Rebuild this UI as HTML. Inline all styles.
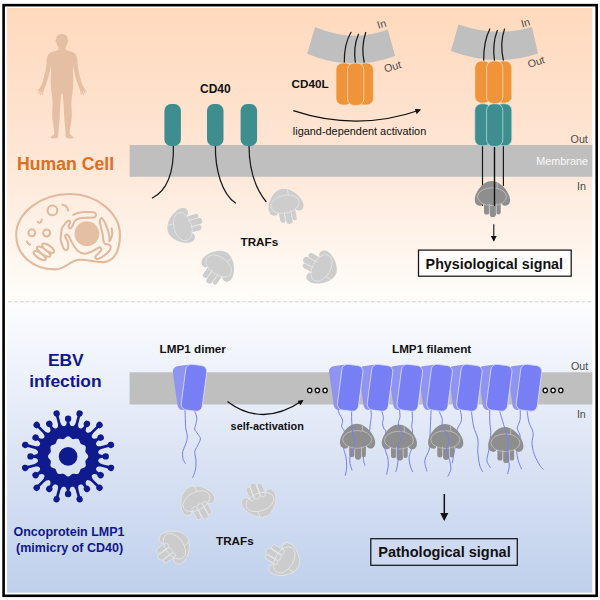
<!DOCTYPE html>
<html><head><meta charset="utf-8"><title>LMP1 mimicry of CD40</title>
<style>
html,body{margin:0;padding:0;background:#fff;}
svg{display:block;}
text{font-family:"Liberation Sans",sans-serif;}
.b{font-weight:bold;}
</style></head><body>
<svg width="600" height="600" viewBox="0 0 600 600">
<defs>
<linearGradient id="gTop" x1="0" y1="0" x2="0" y2="1">
<stop offset="0" stop-color="#FFD9BD"/><stop offset="0.5" stop-color="#FEE6D5"/><stop offset="1" stop-color="#FFFDFA"/>
</linearGradient>
<linearGradient id="gBot" x1="0" y1="0" x2="0" y2="1">
<stop offset="0" stop-color="#FDFDFF"/><stop offset="0.5" stop-color="#DDE5F5"/><stop offset="1" stop-color="#BFD0EC"/>
</linearGradient>
<!-- TRAF shape -->
<g id="trafShape">
<path d="M-0.5,-15.5 C8.5,-15.5 17.6,-4.5 18,3 C18.2,8 15,9.7 12.5,9.2 C10.5,8.8 9.5,7.5 9,6.5 L-9,7.5 C-9.5,8.5 -11,9.7 -13,9.2 C-16,8.5 -17.4,6 -17.2,2.5 C-16.8,-4.5 -9,-15.5 -0.5,-15.5 Z"/>
<rect x="-8" y="4" width="5.2" height="14" rx="2.6"/>
<rect x="4.3" y="4" width="4.4" height="14" rx="2.2"/>
<rect x="-2.3" y="4" width="6.3" height="16.5" rx="3.1"/>
</g>
<g id="trafLines" fill="none" stroke-width="0.75">
<ellipse cx="0" cy="0.2" rx="14.5" ry="8.9"/>
<path d="M5.3,-14.6 L5.3,-8"/>
<path d="M-2.6,9.3 L-2.6,16.5 M4.2,9.3 L4.2,16.5"/>
</g>
<g id="trafL"><use href="#trafShape" fill="#CDCDCD"/><use href="#trafLines" stroke="#E6E6E6"/></g>
<g id="trafL2"><use href="#trafShape" fill="#CCCCCC" stroke="#E0E3E8" stroke-width="0.9"/><use href="#trafLines" stroke="#E8E8E8"/></g>
<g id="trafD"><use href="#trafShape" fill="#8E8E8E"/><use href="#trafLines" stroke="#C6C6C6"/></g>
<!-- LMP1 dimer, in absolute coordinates of the single dimer -->
<g id="dimerB"><rect x="-10.5" y="-22" width="21" height="44" rx="5" fill="#8E94F0" transform="translate(185.6,387.3) rotate(-8)"/></g>
<g id="dimerF"><rect x="-10.6" y="-23" width="21.2" height="46" rx="5.8" fill="#787FF5" stroke="#E4E6FB" stroke-width="0.7" transform="translate(194,387.8) rotate(7.5)"/></g>
<g id="dimer"><use href="#dimerB"/><use href="#dimerF"/></g>
<marker id="ah" viewBox="0 0 10 10" refX="8" refY="5" markerUnits="userSpaceOnUse" markerWidth="5.7" markerHeight="5.7" orient="auto"><path d="M0,0 L10,5 L0,10 Z" fill="#111"/></marker>
<marker id="ah2" viewBox="0 0 10 10" refX="8" refY="5" markerUnits="userSpaceOnUse" markerWidth="8.4" markerHeight="8.4" orient="auto"><path d="M0,0 L10,5 L0,10 Z" fill="#111"/></marker>
</defs>

<!-- backgrounds -->
<rect x="0" y="0" width="600" height="600" fill="#fff"/>
<rect x="7" y="8" width="585.3" height="293" fill="url(#gTop)"/>
<rect x="7" y="301" width="585.3" height="291.7" fill="url(#gBot)"/>
<rect x="3.6" y="5.15" width="593.1" height="590.65" fill="none" stroke="#000" stroke-width="2.6"/>
<line x1="8.5" y1="301.8" x2="591.2" y2="301.8" stroke="#CFCFCF" stroke-width="1.1" stroke-dasharray="3.25 2.6"/>

<!-- TOP PANEL -->
<g id="human" fill="#E5BFA3">
<path d="M62.1,34 C65.6,34 67.7,36.2 67.8,39.2 C68.7,39.3 68.7,41.8 67.6,42.2 C67.2,44.8 66.2,46.2 65.6,47.2 L58.4,47.2 C57.8,46.2 56.8,44.8 56.4,42.2 C55.3,41.8 55.3,39.3 56.2,39.2 C56.3,36.2 58.4,34 62.1,34 Z"/>
<path d="M58.4,44 L58.4,49.8 C56,51.2 52,51.6 49.8,53 C47.4,54.6 46.8,58 46.6,62 C46.3,68 44.6,75 43.2,80 C42.3,83.5 41,86.5 39.6,88.4 L37,91.2 L37.6,91.8 L40,89.8 L38.2,93.6 L39,94 L41,90.6 L40,95 L40.9,95.2 L42.3,91 L42.2,95 L43.1,95 L43.8,90.4 C44.6,88 45.6,85.6 46.6,83 C48.6,77.4 50.2,71 51,64.6 C51.2,72 50.6,78 50.8,84 C51,91 52.4,97 52.6,103 C52.8,108 52,111 52.2,116 C52.4,122 54.2,128 54.4,133 C54.4,134.6 52.4,135.8 51,136.8 C50,137.6 50.6,138.4 52,138.4 L56.6,138.2 C58,138 58.4,136.6 58.4,135 C58.6,128 59.6,122 59.8,116 C60,110 60.6,100 61.4,93.4 L62.6,93.4 C63.4,100 64,110 64.2,116 C64.4,122 65.4,128 65.6,135 C65.6,136.6 66,138 67.4,138.2 L72,138.4 C73.4,138.4 74,137.6 73,136.8 C71.6,135.8 69.6,134.6 69.6,133 C69.8,128 71.6,122 71.8,116 C72,111 71.2,108 71.4,103 C71.6,97 73,91 73.2,84 C73.4,78 72.8,72 73,64.6 C73.8,71 75.4,77.4 77.4,83 C78.4,85.6 79.4,88 80.2,90.4 L80.9,95 L81.8,95 L81.7,91 L83.1,95.2 L84,95 L83,90.6 L85,94 L85.8,93.6 L84,89.8 L86.4,91.8 L87,91.2 L84.4,88.4 C83,86.5 81.7,83.5 80.8,80 C79.4,75 77.7,68 77.5,61 C77.2,58 76.6,54.6 74.2,53 C72,51.6 68,51.2 65.6,49.8 L65.6,44 Z"/>
</g>
<text class="b" x="17" y="170.4" font-size="17.65" fill="#DF6E20">Human Cell</text>

<g id="cell" transform="translate(10.7,185.75) scale(0.1968)" fill="none" stroke="#E2B99B" stroke-width="10.4" stroke-linecap="round" stroke-linejoin="round">
<path d="M300,42 C440,42 555,140 555,250 C555,340 520,385 470,388 C420,390 390,372 345,376 C300,380 280,425 225,425 C110,425 28,350 28,250 C28,140 150,42 300,42 Z"/>
<circle cx="387" cy="244" r="63" fill="#E5BFA3" stroke="none"/>
<circle cx="212" cy="125" r="25"/>
<circle cx="107.5" cy="239" r="17.5"/>
<circle cx="182.5" cy="240" r="17.5"/>
<path d="M262,97 C280,100 290,110 292,126"/>
<path d="M137,184 C148,192 156,186 158,172"/>
<path d="M82,283 C86,292 92,297 98,300"/>
<path d="M318.0,148.0 C322.5,146.2 335.8,139.5 345.0,137.0 C354.2,134.5 360.5,133.3 373.0,133.0 C385.5,132.7 410.3,133.7 420.0,135.0 C429.7,136.3 428.8,138.5 431.0,141.0 C433.2,143.5 433.7,146.8 433.0,150.0 C432.3,153.2 430.8,157.8 427.0,160.0 C423.2,162.2 416.2,162.7 410.0,163.0 C403.8,163.3 400.0,161.7 390.0,162.0 C380.0,162.3 360.5,162.3 350.0,165.0 C339.5,167.7 332.5,172.5 327.0,178.0 C321.5,183.5 320.0,192.2 317.0,198.0 C314.0,203.8 311.7,209.8 309.0,213.0 C306.3,216.2 303.2,217.2 301.0,217.0 C298.8,216.8 297.0,214.3 296.0,212.0 C295.0,209.7 294.0,207.2 295.0,203.0 C296.0,198.8 301.2,190.8 302.0,187.0 C302.8,183.2 301.3,181.5 300.0,180.0 C298.7,178.5 297.8,176.0 294.0,178.0 C290.2,180.0 282.7,185.3 277.0,192.0 C271.3,198.7 263.7,207.5 260.0,218.0 C256.3,228.5 256.0,245.5 255.0,255.0 C254.0,264.5 252.3,265.8 254.0,275.0 C255.7,284.2 262.0,302.0 265.0,310.0 C268.0,318.0 269.5,320.2 272.0,323.0 C274.5,325.8 277.3,326.8 280.0,327.0 C282.7,327.2 286.0,326.0 288.0,324.0 C290.0,322.0 291.7,321.5 292.0,315.0 C292.3,308.5 292.3,293.8 290.0,285.0 C287.7,276.2 280.0,267.5 278.0,262.0 C276.0,256.5 277.2,254.3 278.0,252.0 C278.8,249.7 281.0,248.3 283.0,248.0 C285.0,247.7 287.8,248.3 290.0,250.0 C292.2,251.7 291.8,250.5 296.0,258.0 C300.2,265.5 307.7,283.0 315.0,295.0 C322.3,307.0 330.0,321.7 340.0,330.0 C350.0,338.3 363.3,344.2 375.0,345.0 C386.7,345.8 399.2,339.5 410.0,335.0 C420.8,330.5 433.3,321.7 440.0,318.0 C446.7,314.3 447.2,313.3 450.0,313.0 C452.8,312.7 455.3,313.7 457.0,316.0 C458.7,318.3 462.0,322.2 460.0,327.0 C458.0,331.8 449.7,340.0 445.0,345.0 C440.3,350.0 434.5,353.7 432.0,357.0 C429.5,360.3 429.5,362.7 430.0,365.0 C430.5,367.3 431.7,370.2 435.0,371.0 C438.3,371.8 443.3,372.7 450.0,370.0 C456.7,367.3 466.7,361.3 475.0,355.0 C483.3,348.7 494.5,339.2 500.0,332.0 C505.5,324.8 507.5,317.2 508.0,312.0 C508.5,306.8 506.0,303.3 503.0,301.0 C500.0,298.7 494.3,299.3 490.0,298.0 C485.7,296.7 480.2,296.3 477.0,293.0 C473.8,289.7 472.5,285.2 471.0,278.0 C469.5,270.8 470.0,260.5 468.0,250.0 C466.0,239.5 461.5,226.3 459.0,215.0 C456.5,203.7 453.5,189.7 453.0,182.0 C452.5,174.3 454.0,171.7 456.0,169.0 C458.0,166.3 461.0,162.5 465.0,166.0 C469.0,169.5 475.0,179.3 480.0,190.0 C485.0,200.7 491.3,218.0 495.0,230.0 C498.7,242.0 501.0,253.5 502.0,262.0 C503.0,270.5 500.2,279.0 501.0,281.0 C501.8,283.0 504.5,280.0 507.0,274.0 C509.5,268.0 515.0,254.5 516.0,245.0 C517.0,235.5 513.5,221.7 513.0,217.0"/>
<g transform="translate(147.5,355) rotate(35)"><ellipse cx="0" cy="0" rx="36" ry="14"/></g>
<g transform="translate(167.5,335) rotate(35)"><ellipse cx="0" cy="0" rx="40" ry="15" fill="#FFF3EA"/></g>
<g transform="translate(190,317.5) rotate(35)"><ellipse cx="0" cy="0" rx="36" ry="15" fill="#FFF3EA"/></g>
</g>

<!-- membrane top -->
<rect x="129.6" y="145" width="462.7" height="31.8" fill="#BFBFBF"/>
<text x="570.6" y="142.7" font-size="10.7" fill="#4A4A4A">Out</text>
<text x="536.2" y="165.4" font-size="10.85" fill="#FAFAFA">Membrane</text>
<text x="577" y="190" font-size="10.7" fill="#4A4A4A">In</text>

<!-- CD40 -->
<text class="b" x="200" y="93" font-size="12" fill="#111">CD40</text>
<g fill="none" stroke="#1A1A1A" stroke-width="1.25" stroke-linecap="round">
<path d="M173.4,145 C174,170 168,190 152.4,198"/>
<path d="M215.4,145 C215,170 222,194 235.5,203"/>
<path d="M249,145 C249,168 255,188 266,201.5"/>
</g>
<g fill="#3E8E90">
<rect x="164.4" y="104" width="16.5" height="42" rx="6.5"/>
<rect x="207" y="104" width="16.5" height="42" rx="6.5"/>
<rect x="240.6" y="104" width="16.5" height="42" rx="6.5"/>
</g>

<!-- light TRAFs top -->
<use href="#trafL" transform="translate(182.6,226.7) rotate(-106)"/>
<use href="#trafL" transform="translate(285,204) rotate(-12)"/>
<use href="#trafL" transform="translate(218.75,265.8) rotate(35)"/>
<use href="#trafL" transform="translate(321.7,268) rotate(120)"/>
<text class="b" x="240.5" y="245.7" font-size="11.7" fill="#111">TRAFs</text>

<!-- CD40L cell 1 -->
<g id="cmem">
<path d="M315,27 Q352.7,43 387.8,29.6 L395.2,56 Q351,72.4 307.2,53.8 Z" fill="#BFBFBF"/>
<g fill="none" stroke="#1A1A1A" stroke-width="1.25" stroke-linecap="round">
<path d="M351,32.3 Q343.95,44.2 344.3,63"/>
<path d="M358.5,34.2 Q353.05,46.65 355.4,63"/>
<path d="M365.7,32.5 Q360.8,47.5 364.3,63"/>
</g>
</g>
<g id="cd40l" fill="#F0943A" stroke="#FBE3C8" stroke-width="0.7">
<rect x="336" y="63" width="16" height="42" rx="6.5"/>
<rect x="357.4" y="63" width="16" height="42" rx="6.5"/>
<rect x="347.6" y="63" width="16.2" height="42.4" rx="6.5"/>
</g>
<text x="0" y="0" font-size="10.7" fill="#4A4A4A" transform="translate(378.3,28.8) rotate(-16)">In</text>
<text x="0" y="0" font-size="10.7" fill="#4A4A4A" transform="translate(385.3,72.5) rotate(-16)">Out</text>
<text class="b" x="291.6" y="88" font-size="11.7" fill="#111">CD40L</text>
<path d="M293.3,110.7 Q357.3,132 420,110" fill="none" stroke="#111" stroke-width="1.25" marker-end="url(#ah)"/>
<text x="292.8" y="134.6" font-size="10.92" fill="#111">ligand-dependent activation</text>

<!-- complex 2 -->
<path d="M458.4,24.4 Q496.8,37.5 532,27 L538,53.6 Q495.5,67.7 451,51 Z" fill="#BFBFBF"/>
<g fill="none" stroke="#1A1A1A" stroke-width="1.25" stroke-linecap="round">
<path d="M489.8,29 Q483.45,41.9 483.7,60.5"/>
<path d="M497.3,30.5 Q492.1,43.9 494.5,61"/>
<path d="M504.5,29.1 Q499.55,43.4 503.4,60.5"/>
</g>
<g fill="#F0943A" stroke="#FBE3C8" stroke-width="0.7">
<rect x="474.8" y="61" width="16" height="42" rx="6.5"/>
<rect x="495.8" y="61" width="16" height="42" rx="6.5"/>
<rect x="486.6" y="61" width="16.2" height="42.5" rx="6.5"/>
</g>
<g fill="none" stroke="#1A1A1A" stroke-width="1.2">
<path d="M482.5,146 L482.5,206"/>
<path d="M503.4,146 L503.4,186"/>
</g>
<g fill="#3E8E90" stroke="#C9E1E1" stroke-width="0.7">
<rect x="474.8" y="103.8" width="16" height="42" rx="6.5"/>
<rect x="495.8" y="103.8" width="16" height="42" rx="6.5"/>
<rect x="486.6" y="103.8" width="16.2" height="42.6" rx="6.5"/>
</g>
<text x="0" y="0" font-size="10.7" fill="#4A4A4A" transform="translate(522.2,27.5) rotate(-16)">In</text>
<text x="0" y="0" font-size="10.7" fill="#4A4A4A" transform="translate(529,68) rotate(-17.4)">Out</text>
<use href="#trafD" transform="translate(492,196.5)"/>
<path d="M494.5,147 L494.5,206" stroke="#111" stroke-width="1.4" fill="none"/>
<path d="M493.8,224.3 L493.8,240.6" fill="none" stroke="#111" stroke-width="1.1" marker-end="url(#ah)"/>
<rect x="418.5" y="250.1" width="152.7" height="26.1" fill="#FFFDFB" stroke="#151515" stroke-width="1.25"/>
<text class="b" x="425.6" y="268.8" font-size="14.3" fill="#111">Physiological signal</text>

<!-- BOTTOM PANEL -->
<text class="b" x="65.8" y="365.6" font-size="17.4" fill="#10178C" text-anchor="middle">EBV</text>
<text class="b" x="65.4" y="387.4" font-size="17.4" fill="#10178C" text-anchor="middle">infection</text>
<g id="virus" transform="translate(68.1,456.4)">
<g fill="#0F1A8C">
<path fill-rule="evenodd" d="M0,-30.6 A30.6,30.6 0 1 1 0,30.6 A30.6,30.6 0 1 1 0,-30.6 Z M0.00,-20.05 L0.52,-19.99 L1.04,-19.82 L1.54,-19.56 L2.02,-19.22 L2.48,-18.84 L2.92,-18.45 L3.35,-18.08 L3.77,-17.75 L4.20,-17.50 L4.65,-17.34 L5.11,-17.26 L5.61,-17.26 L6.14,-17.33 L6.69,-17.44 L7.27,-17.55 L7.86,-17.65 L8.45,-17.71 L9.01,-17.69 L9.54,-17.58 L10.02,-17.36 L10.45,-17.05 L10.81,-16.65 L11.11,-16.17 L11.36,-15.63 L11.57,-15.07 L11.75,-14.51 L11.94,-13.98 L12.15,-13.49 L12.39,-13.06 L12.69,-12.69 L13.06,-12.39 L13.49,-12.15 L13.98,-11.94 L14.51,-11.75 L15.07,-11.57 L15.63,-11.36 L16.17,-11.11 L16.65,-10.81 L17.05,-10.45 L17.36,-10.03 L17.58,-9.54 L17.69,-9.01 L17.71,-8.45 L17.65,-7.86 L17.55,-7.27 L17.44,-6.69 L17.33,-6.14 L17.26,-5.61 L17.26,-5.11 L17.34,-4.65 L17.50,-4.20 L17.75,-3.77 L18.08,-3.35 L18.45,-2.92 L18.84,-2.48 L19.22,-2.02 L19.56,-1.54 L19.82,-1.04 L19.99,-0.52 L20.05,-0.00 L19.99,0.52 L19.82,1.04 L19.56,1.54 L19.22,2.02 L18.84,2.48 L18.45,2.92 L18.08,3.35 L17.75,3.77 L17.50,4.20 L17.34,4.65 L17.26,5.11 L17.26,5.61 L17.33,6.14 L17.44,6.69 L17.55,7.27 L17.65,7.86 L17.71,8.45 L17.69,9.01 L17.58,9.54 L17.36,10.02 L17.05,10.45 L16.65,10.81 L16.17,11.11 L15.63,11.36 L15.07,11.57 L14.51,11.75 L13.98,11.94 L13.49,12.15 L13.06,12.39 L12.69,12.69 L12.39,13.06 L12.15,13.49 L11.94,13.98 L11.75,14.51 L11.57,15.07 L11.36,15.63 L11.11,16.17 L10.81,16.65 L10.45,17.05 L10.02,17.36 L9.54,17.58 L9.01,17.69 L8.45,17.71 L7.86,17.65 L7.27,17.55 L6.69,17.44 L6.14,17.33 L5.61,17.26 L5.11,17.26 L4.65,17.34 L4.20,17.50 L3.77,17.75 L3.35,18.08 L2.92,18.45 L2.48,18.84 L2.02,19.22 L1.54,19.56 L1.04,19.82 L0.52,19.99 L0.00,20.05 L-0.52,19.99 L-1.04,19.82 L-1.54,19.56 L-2.02,19.22 L-2.48,18.84 L-2.92,18.45 L-3.35,18.08 L-3.77,17.75 L-4.20,17.50 L-4.65,17.34 L-5.11,17.26 L-5.61,17.26 L-6.14,17.33 L-6.69,17.44 L-7.27,17.55 L-7.86,17.65 L-8.45,17.71 L-9.01,17.69 L-9.54,17.58 L-10.02,17.36 L-10.45,17.05 L-10.81,16.65 L-11.11,16.17 L-11.36,15.63 L-11.57,15.07 L-11.75,14.51 L-11.94,13.98 L-12.15,13.49 L-12.39,13.06 L-12.69,12.69 L-13.06,12.39 L-13.49,12.15 L-13.98,11.94 L-14.51,11.75 L-15.07,11.57 L-15.63,11.36 L-16.17,11.11 L-16.65,10.81 L-17.05,10.45 L-17.36,10.03 L-17.58,9.54 L-17.69,9.01 L-17.71,8.45 L-17.65,7.86 L-17.55,7.27 L-17.44,6.69 L-17.33,6.14 L-17.26,5.61 L-17.26,5.11 L-17.34,4.65 L-17.50,4.20 L-17.75,3.77 L-18.08,3.35 L-18.45,2.92 L-18.84,2.48 L-19.22,2.02 L-19.56,1.54 L-19.82,1.04 L-19.99,0.52 L-20.05,0.00 L-19.99,-0.52 L-19.82,-1.04 L-19.56,-1.54 L-19.22,-2.02 L-18.84,-2.48 L-18.45,-2.92 L-18.08,-3.35 L-17.75,-3.77 L-17.50,-4.20 L-17.34,-4.65 L-17.26,-5.11 L-17.26,-5.61 L-17.33,-6.14 L-17.44,-6.69 L-17.55,-7.27 L-17.65,-7.86 L-17.71,-8.45 L-17.69,-9.01 L-17.58,-9.54 L-17.36,-10.03 L-17.05,-10.45 L-16.65,-10.81 L-16.17,-11.11 L-15.63,-11.36 L-15.07,-11.57 L-14.51,-11.75 L-13.98,-11.94 L-13.49,-12.15 L-13.06,-12.39 L-12.69,-12.69 L-12.39,-13.06 L-12.15,-13.49 L-11.94,-13.98 L-11.75,-14.51 L-11.57,-15.07 L-11.36,-15.63 L-11.11,-16.17 L-10.81,-16.65 L-10.45,-17.05 L-10.02,-17.36 L-9.54,-17.58 L-9.01,-17.69 L-8.45,-17.71 L-7.86,-17.65 L-7.27,-17.55 L-6.69,-17.44 L-6.14,-17.33 L-5.61,-17.26 L-5.11,-17.26 L-4.65,-17.34 L-4.20,-17.50 L-3.77,-17.75 L-3.35,-18.08 L-2.92,-18.45 L-2.48,-18.84 L-2.02,-19.22 L-1.54,-19.56 L-1.04,-19.82 L-0.52,-19.99 Z"/>
<circle r="9.3"/>
<g transform="rotate(0)"><path d="M-4.1,-29.5 C-2.2,-30.6 -1.35,-32.4 -1.35,-35 L-1.35,-37.6 L1.35,-37.6 L1.35,-35 C1.35,-32.4 2.2,-30.6 4.1,-29.5 Z"/><circle cx="0" cy="-37.6" r="3.2"/></g>
<g transform="rotate(15)"><path d="M-4.1,-29.5 C-2.2,-30.6 -1.35,-32.4 -1.35,-35 L-1.35,-44.4 L1.35,-44.4 L1.35,-35 C1.35,-32.4 2.2,-30.6 4.1,-29.5 Z"/><circle cx="0" cy="-44.4" r="3.2"/></g>
<g transform="rotate(30)"><path d="M-4.1,-29.5 C-2.2,-30.6 -1.35,-32.4 -1.35,-35 L-1.35,-37.6 L1.35,-37.6 L1.35,-35 C1.35,-32.4 2.2,-30.6 4.1,-29.5 Z"/><circle cx="0" cy="-37.6" r="3.2"/></g>
<g transform="rotate(45)"><path d="M-4.1,-29.5 C-2.2,-30.6 -1.35,-32.4 -1.35,-35 L-1.35,-44.4 L1.35,-44.4 L1.35,-35 C1.35,-32.4 2.2,-30.6 4.1,-29.5 Z"/><circle cx="0" cy="-44.4" r="3.2"/></g>
<g transform="rotate(60)"><path d="M-4.1,-29.5 C-2.2,-30.6 -1.35,-32.4 -1.35,-35 L-1.35,-37.6 L1.35,-37.6 L1.35,-35 C1.35,-32.4 2.2,-30.6 4.1,-29.5 Z"/><circle cx="0" cy="-37.6" r="3.2"/></g>
<g transform="rotate(75)"><path d="M-4.1,-29.5 C-2.2,-30.6 -1.35,-32.4 -1.35,-35 L-1.35,-44.4 L1.35,-44.4 L1.35,-35 C1.35,-32.4 2.2,-30.6 4.1,-29.5 Z"/><circle cx="0" cy="-44.4" r="3.2"/></g>
<g transform="rotate(90)"><path d="M-4.1,-29.5 C-2.2,-30.6 -1.35,-32.4 -1.35,-35 L-1.35,-37.6 L1.35,-37.6 L1.35,-35 C1.35,-32.4 2.2,-30.6 4.1,-29.5 Z"/><circle cx="0" cy="-37.6" r="3.2"/></g>
<g transform="rotate(105)"><path d="M-4.1,-29.5 C-2.2,-30.6 -1.35,-32.4 -1.35,-35 L-1.35,-44.4 L1.35,-44.4 L1.35,-35 C1.35,-32.4 2.2,-30.6 4.1,-29.5 Z"/><circle cx="0" cy="-44.4" r="3.2"/></g>
<g transform="rotate(120)"><path d="M-4.1,-29.5 C-2.2,-30.6 -1.35,-32.4 -1.35,-35 L-1.35,-37.6 L1.35,-37.6 L1.35,-35 C1.35,-32.4 2.2,-30.6 4.1,-29.5 Z"/><circle cx="0" cy="-37.6" r="3.2"/></g>
<g transform="rotate(135)"><path d="M-4.1,-29.5 C-2.2,-30.6 -1.35,-32.4 -1.35,-35 L-1.35,-44.4 L1.35,-44.4 L1.35,-35 C1.35,-32.4 2.2,-30.6 4.1,-29.5 Z"/><circle cx="0" cy="-44.4" r="3.2"/></g>
<g transform="rotate(150)"><path d="M-4.1,-29.5 C-2.2,-30.6 -1.35,-32.4 -1.35,-35 L-1.35,-37.6 L1.35,-37.6 L1.35,-35 C1.35,-32.4 2.2,-30.6 4.1,-29.5 Z"/><circle cx="0" cy="-37.6" r="3.2"/></g>
<g transform="rotate(165)"><path d="M-4.1,-29.5 C-2.2,-30.6 -1.35,-32.4 -1.35,-35 L-1.35,-44.4 L1.35,-44.4 L1.35,-35 C1.35,-32.4 2.2,-30.6 4.1,-29.5 Z"/><circle cx="0" cy="-44.4" r="3.2"/></g>
<g transform="rotate(180)"><path d="M-4.1,-29.5 C-2.2,-30.6 -1.35,-32.4 -1.35,-35 L-1.35,-37.6 L1.35,-37.6 L1.35,-35 C1.35,-32.4 2.2,-30.6 4.1,-29.5 Z"/><circle cx="0" cy="-37.6" r="3.2"/></g>
<g transform="rotate(195)"><path d="M-4.1,-29.5 C-2.2,-30.6 -1.35,-32.4 -1.35,-35 L-1.35,-44.4 L1.35,-44.4 L1.35,-35 C1.35,-32.4 2.2,-30.6 4.1,-29.5 Z"/><circle cx="0" cy="-44.4" r="3.2"/></g>
<g transform="rotate(210)"><path d="M-4.1,-29.5 C-2.2,-30.6 -1.35,-32.4 -1.35,-35 L-1.35,-37.6 L1.35,-37.6 L1.35,-35 C1.35,-32.4 2.2,-30.6 4.1,-29.5 Z"/><circle cx="0" cy="-37.6" r="3.2"/></g>
<g transform="rotate(225)"><path d="M-4.1,-29.5 C-2.2,-30.6 -1.35,-32.4 -1.35,-35 L-1.35,-44.4 L1.35,-44.4 L1.35,-35 C1.35,-32.4 2.2,-30.6 4.1,-29.5 Z"/><circle cx="0" cy="-44.4" r="3.2"/></g>
<g transform="rotate(240)"><path d="M-4.1,-29.5 C-2.2,-30.6 -1.35,-32.4 -1.35,-35 L-1.35,-37.6 L1.35,-37.6 L1.35,-35 C1.35,-32.4 2.2,-30.6 4.1,-29.5 Z"/><circle cx="0" cy="-37.6" r="3.2"/></g>
<g transform="rotate(255)"><path d="M-4.1,-29.5 C-2.2,-30.6 -1.35,-32.4 -1.35,-35 L-1.35,-44.4 L1.35,-44.4 L1.35,-35 C1.35,-32.4 2.2,-30.6 4.1,-29.5 Z"/><circle cx="0" cy="-44.4" r="3.2"/></g>
<g transform="rotate(270)"><path d="M-4.1,-29.5 C-2.2,-30.6 -1.35,-32.4 -1.35,-35 L-1.35,-37.6 L1.35,-37.6 L1.35,-35 C1.35,-32.4 2.2,-30.6 4.1,-29.5 Z"/><circle cx="0" cy="-37.6" r="3.2"/></g>
<g transform="rotate(285)"><path d="M-4.1,-29.5 C-2.2,-30.6 -1.35,-32.4 -1.35,-35 L-1.35,-44.4 L1.35,-44.4 L1.35,-35 C1.35,-32.4 2.2,-30.6 4.1,-29.5 Z"/><circle cx="0" cy="-44.4" r="3.2"/></g>
<g transform="rotate(300)"><path d="M-4.1,-29.5 C-2.2,-30.6 -1.35,-32.4 -1.35,-35 L-1.35,-37.6 L1.35,-37.6 L1.35,-35 C1.35,-32.4 2.2,-30.6 4.1,-29.5 Z"/><circle cx="0" cy="-37.6" r="3.2"/></g>
<g transform="rotate(315)"><path d="M-4.1,-29.5 C-2.2,-30.6 -1.35,-32.4 -1.35,-35 L-1.35,-44.4 L1.35,-44.4 L1.35,-35 C1.35,-32.4 2.2,-30.6 4.1,-29.5 Z"/><circle cx="0" cy="-44.4" r="3.2"/></g>
<g transform="rotate(330)"><path d="M-4.1,-29.5 C-2.2,-30.6 -1.35,-32.4 -1.35,-35 L-1.35,-37.6 L1.35,-37.6 L1.35,-35 C1.35,-32.4 2.2,-30.6 4.1,-29.5 Z"/><circle cx="0" cy="-37.6" r="3.2"/></g>
<g transform="rotate(345)"><path d="M-4.1,-29.5 C-2.2,-30.6 -1.35,-32.4 -1.35,-35 L-1.35,-44.4 L1.35,-44.4 L1.35,-35 C1.35,-32.4 2.2,-30.6 4.1,-29.5 Z"/><circle cx="0" cy="-44.4" r="3.2"/></g>
</g>
</g>
<text class="b" x="69" y="536.2" font-size="12.5" fill="#10178C" text-anchor="middle">Oncoprotein LMP1</text>
<text class="b" x="69.6" y="552.4" font-size="12.5" fill="#10178C" text-anchor="middle">(mimicry of CD40)</text>

<rect x="129.6" y="372.3" width="462.7" height="32.2" fill="#BFBFBF"/>
<text x="570.9" y="369.5" font-size="10.7" fill="#4A4A4A">Out</text>
<text x="576.9" y="418" font-size="10.7" fill="#4A4A4A">In</text>
<text class="b" x="159.6" y="353" font-size="11.7" fill="#111">LMP1 dimer</text>
<text class="b" x="392" y="353" font-size="11.7" fill="#111">LMP1 filament</text>

<g id="tails1" fill="none" stroke="#787EF3" stroke-width="1.0" stroke-linecap="round">
<path d="M184.9,409.0 C185.0,410.6 185.2,415.2 185.3,418.3 C185.4,421.4 185.4,424.6 185.7,427.7 C186.0,430.8 187.4,434.1 187.3,437.0 C187.2,439.9 186.1,442.6 185.3,445.0 C184.5,447.4 183.1,449.5 182.7,451.7 C182.3,453.9 182.5,456.4 182.9,458.3 C183.3,460.2 184.9,462.5 185.3,463.4"/>
<path d="M193.6,409.0 C194.1,410.3 196.3,414.6 196.7,417.0 C197.1,419.4 196.3,421.7 196.0,423.7 C195.7,425.7 194.4,427.2 194.7,429.0 C195.0,430.8 197.1,432.6 198.0,434.3 C198.9,436.0 200.5,437.0 200.4,439.0 C200.3,441.0 198.2,444.2 197.3,446.3 C196.4,448.4 194.9,449.2 194.7,451.7 C194.5,454.1 195.9,457.9 196.0,461.0 C196.1,464.1 195.9,467.6 195.3,470.3 C194.8,473.0 193.1,476.1 192.7,477.3"/>
</g>
<use href="#dimer"/>
<path d="M227.4,401.4 Q262.7,428 302.6,400.6" fill="none" stroke="#111" stroke-width="1.25" marker-end="url(#ah)"/>
<text class="b" x="230.6" y="429.7" font-size="10.9" fill="#111">self-activation</text>
<g fill="#fff" stroke="#111" stroke-width="1.35">
<circle cx="309.7" cy="390.4" r="2.15"/><circle cx="317.4" cy="390.4" r="2.15"/><circle cx="325.1" cy="390.4" r="2.15"/>
<circle cx="545.3" cy="390.4" r="2.15"/><circle cx="553.1" cy="390.4" r="2.15"/><circle cx="560.8" cy="390.4" r="2.15"/>
</g>
<g id="filament">
<g fill="none" stroke="#787EF3" stroke-width="1.0" stroke-linecap="round">
<path d="M337.5,406.7 C337.8,407.8 338.3,411.1 339.2,413.3 C340.0,415.6 342.1,417.8 342.5,420.0 C342.9,422.2 341.4,424.9 341.7,426.7 C341.9,428.5 343.7,428.6 344.2,430.8 C344.7,433.1 344.8,437.1 344.7,440.0 C344.6,442.9 343.5,445.6 343.7,448.3 C343.9,451.1 345.3,453.6 345.8,456.7 C346.3,459.7 346.8,463.6 346.7,466.7 C346.6,469.8 345.6,473.9 345.3,475.3"/>
<path d="M370.8,406.7 C370.9,408.3 371.4,413.9 371.3,416.7 C371.2,419.4 370.6,421.1 370.3,423.3 C370.1,425.6 370.1,427.2 369.7,430.0 C369.2,432.8 368.3,436.9 367.5,440.0 C366.7,443.1 365.7,445.3 365.0,448.3 C364.3,451.4 363.3,455.5 363.3,458.3 C363.3,461.2 364.7,464.2 365.0,465.3"/>
<path d="M380.0,406.7 C380.6,408.3 382.9,413.9 383.3,416.7 C383.8,419.4 382.4,421.2 382.5,423.3 C382.6,425.4 383.6,427.9 384.2,429.2 C384.7,430.4 385.6,429.0 385.8,430.8 C386.0,432.6 385.5,436.9 385.3,440.0 C385.2,443.1 384.6,446.4 385.0,449.2 C385.4,451.9 386.9,454.0 387.5,456.7 C388.1,459.3 388.5,462.1 388.3,465.0 C388.2,467.9 386.9,472.6 386.7,474.2"/>
<path d="M411.7,406.7 C411.8,408.6 412.5,415.0 412.5,418.3 C412.5,421.7 411.7,424.6 411.7,426.7 C411.7,428.8 412.4,428.6 412.5,430.8 C412.6,433.1 412.5,437.1 412.3,440.0 C412.2,442.9 412.2,445.6 411.7,448.3 C411.1,451.1 409.4,453.9 409.2,456.7 C408.9,459.4 409.4,462.5 410.0,465.0 C410.6,467.5 412.1,470.6 412.5,471.7"/>
<path d="M431.3,406.5 C431.1,409.0 430.8,417.7 430.6,421.7 C430.4,425.6 430.3,427.1 430.2,430.3 C430.0,433.6 429.9,437.9 429.7,441.2 C429.6,444.4 429.9,446.6 429.1,449.8 C428.3,453.1 425.1,457.1 424.8,460.7 C424.4,464.2 426.6,469.3 426.9,471.1"/>
<path d="M459.4,406.5 C459.8,408.7 461.9,415.7 461.6,419.5 C461.2,423.3 458.2,426.0 457.3,429.3 C456.4,432.5 456.6,435.6 456.2,439.0 C455.7,442.4 455.3,445.4 454.7,449.4 C454.0,453.4 452.7,460.6 452.3,462.8"/>
<path d="M489.8,406.5 C489.8,409.0 489.6,417.3 489.8,421.7 C489.9,426.0 490.8,428.9 490.8,432.5 C490.8,436.1 490.1,440.3 489.8,443.3 C489.4,446.4 489.1,448.0 488.7,450.9 C488.2,453.8 486.7,457.9 486.9,460.7 C487.2,463.5 489.8,466.4 490.4,467.6"/>
<path d="M520.1,406.5 C520.1,408.7 520.6,415.9 520.1,419.5 C519.6,423.1 517.3,425.5 517.3,428.2 C517.3,430.9 519.9,432.9 520.1,435.8 C520.3,438.6 519.1,442.6 518.6,445.5 C518.0,448.4 516.8,450.2 516.8,453.1 C516.9,456.0 518.2,460.2 519.0,462.8 C519.8,465.5 521.2,467.9 521.6,468.9"/>
</g>
<use href="#trafD" transform="translate(357.2,439.2)"/>
<use href="#trafD" transform="translate(399.0,440.0)"/>
<use href="#trafD" transform="translate(445.3,439.4)"/>
<use href="#trafD" transform="translate(505.4,442.6)"/>
<g fill="none" stroke="#787EF3" stroke-width="1.0" stroke-linecap="round">
<path d="M351.7,406.7 C351.7,408.9 351.5,416.1 351.7,420.0 C351.8,423.9 352.1,426.9 352.5,430.0 C352.9,433.1 353.8,435.6 354.2,438.3 C354.5,441.1 354.9,444.4 354.7,446.7 C354.4,448.9 353.3,450.0 352.5,451.7 C351.7,453.3 350.4,454.7 350.0,456.7 C349.6,458.6 349.7,461.1 350.0,463.3 C350.3,465.6 351.7,468.9 352.0,470.0"/>
<path d="M399.2,406.7 C399.3,408.3 400.1,413.9 400.0,416.7 C399.9,419.4 398.2,421.0 398.3,423.3 C398.5,425.7 400.1,428.9 400.8,430.8 C401.5,432.8 402.5,433.5 402.5,435.0 C402.5,436.5 401.5,438.3 400.8,440.0 C400.1,441.7 398.8,442.5 398.3,445.0 C397.9,447.5 398.5,451.7 398.3,455.0 C398.2,458.3 397.9,462.2 397.5,465.0 C397.1,467.8 396.1,470.6 395.8,471.7"/>
<path d="M436.7,406.5 C437.6,408.5 441.2,415.0 442.1,418.4 C443.0,421.8 441.2,424.4 442.1,427.1 C443.0,429.8 446.4,432.0 447.5,434.7 C448.6,437.4 448.8,440.8 448.6,443.3 C448.4,445.9 446.2,446.9 446.4,449.8 C446.6,452.7 448.9,457.4 449.7,460.7 C450.4,463.9 451.0,466.7 450.8,469.3 C450.5,471.9 448.4,475.1 447.9,476.3"/>
<path d="M470.9,406.5 C471.3,409.8 472.3,420.6 473.5,426.0 C474.7,431.4 477.1,434.7 477.8,439.0 C478.6,443.3 477.5,447.7 477.8,452.0 C478.1,456.3 478.8,461.8 479.6,465.0 C480.4,468.3 482.1,470.4 482.6,471.5"/>
<path d="M498.4,406.5 C499.1,409.0 501.5,417.3 502.8,421.7 C504.0,426.0 505.1,428.9 506.0,432.5 C506.9,436.1 508.0,439.7 508.2,443.3 C508.4,446.9 506.9,450.6 507.1,454.2 C507.3,457.8 509.1,461.8 509.3,465.0 C509.4,468.3 508.0,472.2 507.7,473.7"/>
<path d="M526.6,406.5 C527.0,409.0 527.7,417.3 528.8,421.7 C529.8,426.0 532.6,428.9 533.1,432.5 C533.6,436.1 531.8,439.7 532.0,443.3 C532.2,446.9 532.9,450.6 534.2,454.2 C535.4,457.8 538.1,462.5 539.6,465.0 C541.1,467.5 542.7,468.6 543.3,469.3"/>
</g>
<use href="#dimerB" transform="translate(156.2,0)"/>
<use href="#dimerB" transform="translate(186.0,0)"/>
<use href="#dimerB" transform="translate(215.8,0)"/>
<use href="#dimerB" transform="translate(245.6,0)"/>
<use href="#dimerB" transform="translate(275.4,0)"/>
<use href="#dimerB" transform="translate(305.2,0)"/>
<use href="#dimerB" transform="translate(335.0,0)"/>
<use href="#dimerF" transform="translate(156.2,0)"/>
<use href="#dimerF" transform="translate(186.0,0)"/>
<use href="#dimerF" transform="translate(215.8,0)"/>
<use href="#dimerF" transform="translate(245.6,0)"/>
<use href="#dimerF" transform="translate(275.4,0)"/>
<use href="#dimerF" transform="translate(305.2,0)"/>
<use href="#dimerF" transform="translate(335.0,0)"/>
</g>

<use href="#trafL2" transform="translate(196.3,501) rotate(-28)"/>
<use href="#trafL2" transform="translate(260,502.2) rotate(160)"/>
<use href="#trafL2" transform="translate(174.6,546.2) rotate(54)"/>
<use href="#trafL2" transform="translate(284.4,560) rotate(122)"/>
<text class="b" x="216" y="544.5" font-size="11.7" fill="#111">TRAFs</text>
<path d="M444.3,494 L444.3,519.4" fill="none" stroke="#111" stroke-width="1.5" marker-end="url(#ah2)"/>
<rect x="370.8" y="538.7" width="146.5" height="26.6" fill="#CEDAF1" stroke="#151515" stroke-width="1.25"/>
<text class="b" x="378.2" y="556.7" font-size="14.55" fill="#111">Pathological signal</text>
</svg>
</body></html>
